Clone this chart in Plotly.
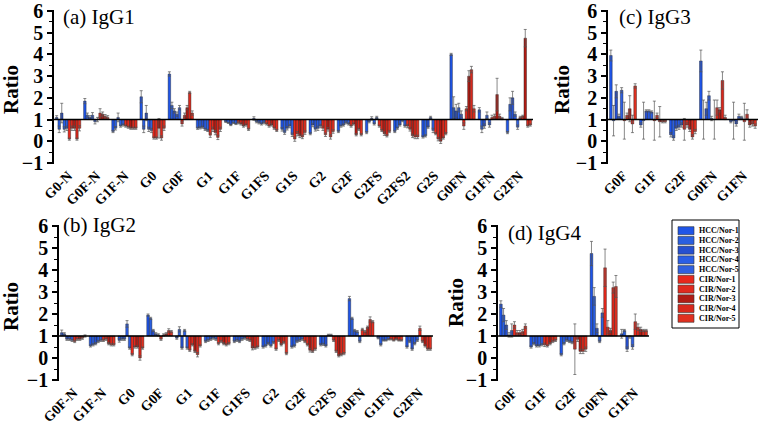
import plotly.graph_objects as go

W, H = 761, 426

series_names = ["HCC/Nor-1", "HCC/Nor-2", "HCC/Nor-3", "HCC/Nor-4", "HCC/Nor-5",
                "CIR/Nor-1", "CIR/Nor-2", "CIR/Nor-3", "CIR/Nor-4", "CIR/Nor-5"]
series_colors = ["#1f55e8", "#2a5fe0", "#2650d0", "#2a5ee6", "#3060e0",
                 "#e8281c", "#e02a1e", "#b01c14", "#d8281c", "#e03020"]

# ---------------- (a) IgG1 ----------------
igg1_categories = ["G0-N", "G0F-N", "G1F-N", "G0", "G0F", "G1", "G1F", "G1FS", "G1S",
                   "G2", "G2F", "G2FS", "G2FS2", "G2S", "G0FN", "G1FN", "G2FN"]
igg1_hcc = [
    [1.10, 0.55, 1.30, 0.55, 0.60],
    [1.85, 1.20, 1.10, 1.20, 0.90],
    [0.45, 0.60, 1.10, 0.70, 0.75],
    [2.05, 0.55, 1.30, 0.55, 0.50],
    [3.10, 1.65, 1.40, 1.25, 1.55],
    [0.60, 0.62, 0.65, 0.55, 0.50],
    [0.90, 0.85, 0.75, 0.85, 0.80],
    [1.05, 0.90, 0.85, 0.80, 0.85],
    [0.55, 0.40, 0.60, 0.70, 0.30],
    [0.35, 0.75, 0.55, 0.60, 0.70],
    [0.45, 0.70, 0.75, 0.85, 0.80],
    [0.40, 0.90, 1.05, 0.80, 1.10],
    [0.45, 0.60, 0.75, 0.95, 0.70],
    [0.20, 0.25, 0.65, 1.10, 0.50],
    [4.00, 1.55, 1.40, 1.55, 1.25],
    [1.45, 0.55, 0.70, 1.20, 0.75],
    [0.40, 1.70, 2.00, 1.25, 0.65],
]
igg1_cir = [
    [0.10, 0.60, 0.60, 0.10, 0.60],
    [1.00, 1.30, 1.25, 1.15, 1.10],
    [0.70, 0.65, 0.60, 0.60, 0.60],
    [0.15, 0.15, 0.60, 0.15, 0.60],
    [0.80, 1.20, 1.55, 2.25, 1.30],
    [0.28, 0.55, 0.40, 0.18, 0.55],
    [0.85, 0.80, 0.70, 0.75, 0.55],
    [0.80, 0.70, 0.75, 0.60, 0.50],
    [0.10, 0.35, 0.25, 0.20, 0.40],
    [0.60, 0.30, 0.55, 0.20, 0.45],
    [0.70, 0.80, 0.30, 0.55, 0.30],
    [0.70, 0.50, 0.35, 0.25, 0.45],
    [0.70, 0.55, 0.25, 0.20, 0.20],
    [0.35, 0.10, 0.00, 0.15, 0.35],
    [0.70, 1.50, 3.00, 3.30, 1.50],
    [1.10, 1.15, 2.15, 1.15, 1.05],
    [1.10, 1.15, 4.75, 0.70, 0.75],
]
igg1_hcc_err = [
    [0.08, 0.15, 0.45, 0.12, 0.10],
    [0.12, 0.10, 0.08, 0.12, 0.10],
    [0.05, 0.08, 0.20, 0.05, 0.05],
    [0.28, 0.15, 0.35, 0.10, 0.10],
    [0.10, 0.15, 0.10, 0.10, 0.10],
    [0.05, 0.05, 0.05, 0.05, 0.05],
    [0.03, 0.03, 0.03, 0.03, 0.03],
    [0.08, 0.05, 0.05, 0.05, 0.05],
    [0.08, 0.08, 0.08, 0.08, 0.08],
    [0.05, 0.08, 0.08, 0.10, 0.08],
    [0.05, 0.05, 0.05, 0.05, 0.05],
    [0.05, 0.05, 0.08, 0.05, 0.05],
    [0.05, 0.05, 0.05, 0.05, 0.05],
    [0.05, 0.05, 0.05, 0.05, 0.10],
    [0.05, 0.50, 0.30, 0.20, 0.15],
    [0.10, 0.15, 0.10, 0.15, 0.10],
    [0.05, 0.30, 0.30, 0.10, 0.10],
]
igg1_cir_err = [
    [0.05, 0.10, 0.10, 0.05, 0.12],
    [0.10, 0.20, 0.10, 0.08, 0.08],
    [0.05, 0.05, 0.05, 0.05, 0.05],
    [0.05, 0.05, 0.45, 0.10, 0.10],
    [0.10, 0.10, 0.10, 0.05, 0.10],
    [0.10, 0.10, 0.10, 0.10, 0.10],
    [0.05, 0.05, 0.05, 0.05, 0.05],
    [0.05, 0.05, 0.05, 0.05, 0.05],
    [0.10, 0.10, 0.08, 0.08, 0.08],
    [0.10, 0.08, 0.08, 0.10, 0.08],
    [0.05, 0.05, 0.05, 0.05, 0.05],
    [0.05, 0.05, 0.08, 0.05, 0.05],
    [0.08, 0.08, 0.08, 0.08, 0.08],
    [0.05, 0.08, 0.10, 0.05, 0.05],
    [0.15, 0.10, 0.25, 0.15, 0.15],
    [0.10, 0.10, 0.75, 0.10, 0.05],
    [0.05, 0.05, 0.40, 0.05, 0.05],
]

# ---------------- (b) IgG2 ----------------
igg2_categories = ["G0F-N", "G1F-N", "G0", "G0F", "G1", "G1F", "G1FS",
                   "G2", "G2F", "G2FS", "G0FN", "G1FN", "G2FN"]
igg2_hcc = [
    [1.15, 1.10, 0.85, 0.85, 0.80],
    [0.55, 0.60, 0.65, 0.75, 0.80],
    [0.80, 0.85, 0.85, 1.55, 0.45],
    [1.95, 1.80, 1.25, 1.10, 1.05],
    [0.90, 1.30, 0.45, 1.25, 0.45],
    [0.75, 0.80, 0.85, 0.90, 0.85],
    [0.75, 0.80, 0.75, 0.85, 0.90],
    [0.50, 0.55, 0.65, 0.55, 0.70],
    [0.50, 0.55, 0.75, 0.80, 0.85],
    [0.60, 0.62, 0.55, 1.05, 1.05],
    [2.70, 1.80, 1.25, 1.20, 0.75],
    [0.90, 0.60, 0.80, 0.80, 0.85],
    [0.50, 0.75, 0.40, 0.65, 0.80],
]
igg2_cir = [
    [0.75, 0.85, 0.85, 0.90, 1.00],
    [0.80, 0.85, 0.65, 0.60, 0.60],
    [0.15, 0.50, 0.50, 0.00, 0.45],
    [0.85, 1.05, 1.10, 1.25, 1.20],
    [0.35, 0.60, 0.30, 0.15, 0.55],
    [0.65, 0.75, 0.65, 0.60, 0.65],
    [0.85, 0.80, 0.45, 0.45, 0.50],
    [0.40, 0.80, 0.60, 0.70, 0.20],
    [0.75, 0.60, 0.35, 0.30, 0.40],
    [0.80, 0.30, 0.10, 0.15, 0.20],
    [1.30, 1.20, 1.40, 1.75, 1.65],
    [0.85, 0.80, 0.85, 0.80, 0.80],
    [1.35, 0.75, 0.55, 0.40, 0.40],
]
igg2_hcc_err = [
    [0.12, 0.05, 0.05, 0.05, 0.05],
    [0.05, 0.05, 0.05, 0.05, 0.05],
    [0.08, 0.05, 0.05, 0.15, 0.05],
    [0.05, 0.05, 0.05, 0.05, 0.05],
    [0.05, 0.12, 0.05, 0.05, 0.05],
    [0.05, 0.05, 0.05, 0.05, 0.05],
    [0.05, 0.05, 0.05, 0.05, 0.05],
    [0.05, 0.05, 0.05, 0.05, 0.05],
    [0.05, 0.05, 0.05, 0.05, 0.05],
    [0.05, 0.05, 0.05, 0.03, 0.03],
    [0.10, 0.05, 0.05, 0.05, 0.05],
    [0.03, 0.05, 0.03, 0.03, 0.03],
    [0.05, 0.05, 0.05, 0.05, 0.05],
]
igg2_cir_err = [
    [0.05, 0.05, 0.05, 0.05, 0.05],
    [0.05, 0.05, 0.05, 0.05, 0.05],
    [0.05, 0.05, 0.05, 0.10, 0.05],
    [0.05, 0.05, 0.05, 0.08, 0.05],
    [0.05, 0.05, 0.05, 0.10, 0.05],
    [0.05, 0.05, 0.05, 0.05, 0.05],
    [0.05, 0.05, 0.08, 0.05, 0.05],
    [0.05, 0.05, 0.05, 0.05, 0.05],
    [0.05, 0.05, 0.08, 0.05, 0.05],
    [0.05, 0.05, 0.05, 0.05, 0.05],
    [0.05, 0.05, 0.05, 0.12, 0.05],
    [0.03, 0.03, 0.03, 0.03, 0.03],
    [0.10, 0.05, 0.05, 0.05, 0.05],
]

# ---------------- (c) IgG3 ----------------
igg3_categories = ["G0F", "G1F", "G2F", "G0FN", "G1FN"]
igg3_hcc = [
    [3.95, 0.95, 2.30, 1.15, 2.35],
    [0.75, 0.95, 1.40, 1.40, 1.35],
    [0.30, 0.15, 0.60, 0.65, 0.75],
    [3.70, 1.00, 1.50, 2.10, 1.05],
    [0.90, 0.95, 0.80, 1.15, 1.10],
]
igg3_cir = [
    [0.95, 1.20, 1.50, 0.80, 2.55],
    [0.95, 1.20, 0.90, 0.90, 0.90],
    [0.55, 0.75, 0.55, 0.20, 0.45],
    [1.00, 1.55, 1.45, 2.80, 1.10],
    [0.90, 1.25, 0.75, 0.80, 0.70],
]
igg3_hcc_err = [
    [0.25, 0.70, 0.30, 0.10, 0.12],
    [0.10, 0.85, 0.05, 0.05, 0.05],
    [0.10, 0.10, 0.10, 0.10, 0.10],
    [0.50, 0.90, 0.30, 0.20, 0.10],
    [0.05, 0.85, 0.10, 0.10, 0.05],
]
igg3_cir_err = [
    [0.85, 0.10, 0.60, 0.40, 0.10],
    [0.90, 0.10, 0.70, 0.05, 0.05],
    [0.50, 0.10, 0.10, 0.10, 0.10],
    [0.90, 0.35, 0.10, 0.40, 0.10],
    [0.85, 0.20, 0.10, 0.10, 0.10],
]

# ---------------- (d) IgG4 ----------------
igg4_categories = ["G0F", "G1F", "G2F", "G0FN", "G1FN"]
igg4_hcc = [
    [2.45, 1.95, 1.50, 1.05, 1.25],
    [0.50, 0.65, 0.55, 0.55, 0.60],
    [0.15, 0.65, 0.80, 0.75, 0.70],
    [4.75, 2.80, 1.35, 0.75, 2.05],
    [1.10, 1.25, 0.40, 0.95, 0.50],
]
igg4_cir = [
    [1.50, 1.15, 1.15, 1.20, 1.45],
    [0.60, 0.55, 0.65, 0.75, 0.80],
    [0.40, 0.85, 0.30, 0.30, 0.40],
    [4.10, 1.40, 1.25, 3.20, 3.25],
    [1.65, 1.40, 1.30, 1.25, 1.25],
]
igg4_hcc_err = [
    [0.15, 0.30, 0.20, 0.10, 0.30],
    [0.05, 0.05, 0.05, 0.05, 0.05],
    [0.05, 0.05, 0.05, 0.05, 0.05],
    [0.55, 0.40, 0.20, 0.05, 0.20],
    [0.20, 0.05, 0.10, 0.05, 0.10],
]
igg4_cir_err = [
    [0.15, 0.10, 0.10, 0.10, 0.10],
    [0.08, 0.05, 0.05, 0.05, 0.05],
    [1.15, 0.10, 0.10, 0.10, 0.10],
    [0.85, 0.30, 0.10, 0.25, 0.50],
    [0.35, 0.15, 0.10, 0.05, 0.05],
]

panel_titles = ["(a) IgG1", "(b) IgG2", "(c) IgG3", "(d) IgG4"]
y_ticks = [-1, 0, 1, 2, 3, 4, 5, 6]

SERIF = "Liberation Serif, Times New Roman, serif"


def px_x(p):
    return p / W


def px_y(p):
    return 1 - p / H


panels = [
    # categories, hcc, cir, hcc_err, cir_err, x-domain px, y px of 6 and -1
    (igg1_categories, igg1_hcc, igg1_cir, igg1_hcc_err, igg1_cir_err, (54, 533), (11, 163)),
    (igg2_categories, igg2_hcc, igg2_cir, igg2_hcc_err, igg2_cir_err, (59, 433), (226, 380)),
    (igg3_categories, igg3_hcc, igg3_cir, igg3_hcc_err, igg3_cir_err, (608, 758), (11, 163)),
    (igg4_categories, igg4_hcc, igg4_cir, igg4_hcc_err, igg4_cir_err, (498, 649), (226, 380)),
]

fig = go.Figure()
layout_axes = {}
shapes = []
annotations = []

for i, (cats, hcc, cir, hcc_err, cir_err, xd, yp) in enumerate(panels):
    n = i + 1
    xa = "x" if n == 1 else f"x{n}"
    ya = "y" if n == 1 else f"y{n}"
    for s in range(10):
        if s < 5:
            vals = [row[s] for row in hcc]
            errs = [row[s] for row in hcc_err]
        else:
            vals = [row[s - 5] for row in cir]
            errs = [row[s - 5] for row in cir_err]
        fig.add_trace(go.Bar(
            x=cats, y=[v - 1 for v in vals], base=1,
            name=series_names[s], showlegend=False,
            marker=dict(color=series_colors[s], line=dict(color="#1a1a1a", width=0.4)),
            error_y=dict(type="data", array=errs, visible=True,
                         color="#555", thickness=0.7, width=1.5),
            xaxis=xa, yaxis=ya,
        ))
    unit = (yp[1] - yp[0]) / 7.0
    top_px = yp[0] - 0.04 * unit
    bot_px = yp[1] + 0.04 * unit
    layout_axes["xaxis" if n == 1 else f"xaxis{n}"] = dict(
        domain=[px_x(xd[0]), px_x(xd[1])], anchor=ya, type="category",
        categoryorder="array", categoryarray=cats,
        range=[-0.5, len(cats) - 0.5], automargin=False,
        tickangle=-45, showline=False, ticks="", showgrid=False, zeroline=False,
        tickfont=dict(family=SERIF, size=14, color="black", weight="bold"),
    )
    layout_axes["yaxis" if n == 1 else f"yaxis{n}"] = dict(
        domain=[px_y(bot_px), px_y(top_px)], anchor=xa, automargin=False,
        range=[-1.04, 6.04], tickvals=y_ticks,
        ticks="outside", ticklen=5, tickwidth=1.5, tickcolor="black",
        showline=True, linewidth=1.5, linecolor="black",
        showgrid=False, zeroline=False,
        minor=dict(dtick=0.5, ticks="outside", ticklen=3, tickwidth=1, tickcolor="black"),
        tickfont=dict(family=SERIF, size=20, color="black", weight="bold"),
    )
    shapes.append(dict(type="line", xref=f"{xa} domain", yref=ya, x0=0, x1=1, y0=1, y1=1,
                       line=dict(color="black", width=1.5)))

# panel titles
title_pos = [(61, 17), (61, 225), (617, 17), (506, 233)]
for t, (tx, ty) in zip(panel_titles, title_pos):
    annotations.append(dict(text=t, xref="paper", yref="paper", x=px_x(tx), y=px_y(ty),
                            xanchor="left", yanchor="middle", showarrow=False,
                            font=dict(family=SERIF, size=21, color="black")))

# y-axis titles
ratio_pos = [(11, 90), (11, 307), (562, 90), (456, 302)]
for rx, ry in ratio_pos:
    annotations.append(dict(text="Ratio", xref="paper", yref="paper", x=px_x(rx), y=px_y(ry),
                            xanchor="center", yanchor="middle", textangle=-90, showarrow=False,
                            font=dict(family=SERIF, size=21, color="black", weight="bold")))

# legend box (drawn manually for compact layout)
lg_x0, lg_x1, lg_y0, lg_y1 = 672, 739, 220, 328
shapes.append(dict(type="rect", xref="paper", yref="paper",
                   x0=px_x(lg_x0), x1=px_x(lg_x1), y0=px_y(lg_y1), y1=px_y(lg_y0),
                   line=dict(color="black", width=1), fillcolor="white", layer="below"))
for k in range(10):
    cy = 230.7 + k * 9.73
    shapes.append(dict(type="rect", xref="paper", yref="paper",
                       x0=px_x(678), x1=px_x(694), y0=px_y(cy + 4), y1=px_y(cy - 4),
                       line=dict(color="#333", width=0.6), fillcolor=series_colors[k]))
    annotations.append(dict(text=series_names[k], xref="paper", yref="paper",
                            x=px_x(696.5), y=px_y(cy), xanchor="left", yanchor="middle",
                            showarrow=False,
                            font=dict(family=SERIF, size=8, color="black", weight="bold")))

fig.update_layout(
    width=W, height=H, margin=dict(l=0, r=0, t=0, b=0, autoexpand=False),
    paper_bgcolor="white", plot_bgcolor="white",
    barmode="group", bargap=0.1, bargroupgap=0,
    shapes=shapes, annotations=annotations, showlegend=False,
    **layout_axes,
)

fig.write_html(
    "out.html",
    config={"displayModeBar": False},
    post_script="document.body.style.margin='0';document.body.style.overflow='hidden';",
)
